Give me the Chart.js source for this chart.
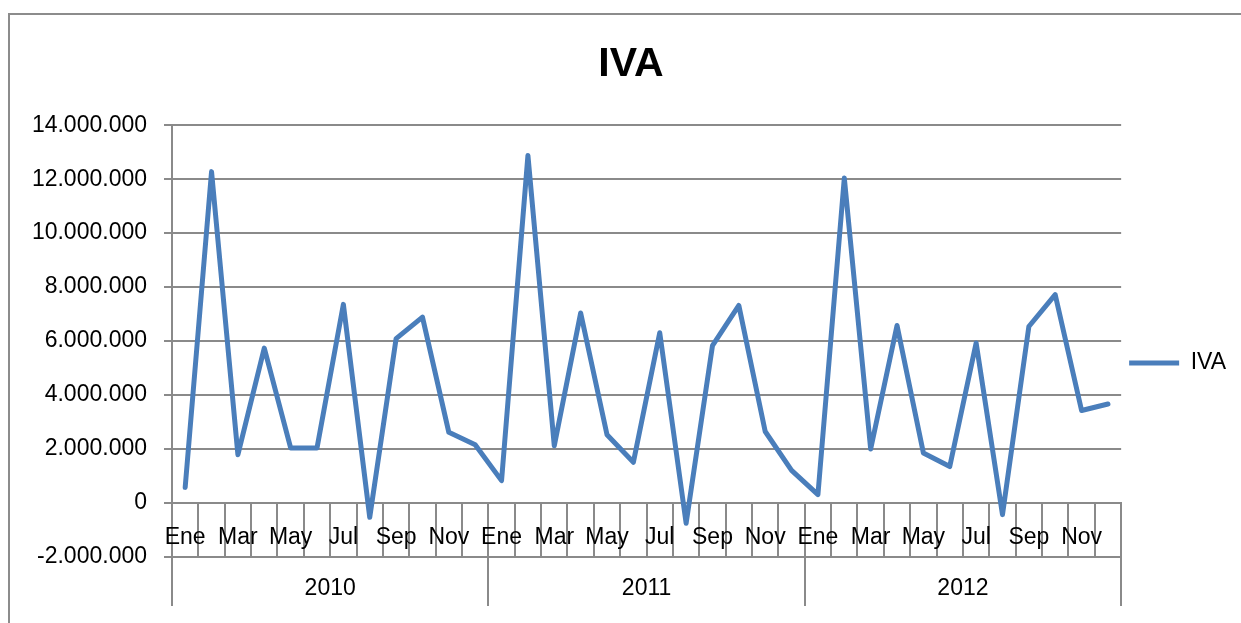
<!DOCTYPE html>
<html>
<head>
<meta charset="utf-8">
<script src="https://cdn.jsdelivr.net/npm/chart.js@4.4.1/dist/chart.umd.min.js"></script>
<style>
  html, body { margin: 0; padding: 0; background: #fff; overflow: hidden; }
  #wrap { position: absolute; left: 0; top: 0; width: 1241px; height: 623px; }
</style>
</head>
<body>
<div id="wrap"><canvas id="chart" width="1241" height="623"></canvas></div>
<script>
// month names (only every other one is shown on the axis)
const monthNames = ['Ene', 'Feb', 'Mar', 'Abr', 'May', 'Jun', 'Jul', 'Ago', 'Sep', 'Oct', 'Nov', 'Dic'];
const years = ['2010', '2011', '2012'];
const months = years.flatMap(() => monthNames);

// IVA values per month, 2010-2012
const iva2010 = [580000, 12280000, 1790000, 5740000, 2040000, 2040000, 7360000, -530000, 6090000, 6890000, 2620000, 2160000];
const iva2011 = [830000, 12880000, 2120000, 7040000, 2530000, 1510000, 6310000, -750000, 5830000, 7320000, 2650000, 1210000];
const iva2012 = [310000, 12040000, 2000000, 6580000, 1850000, 1350000, 5930000, -430000, 6540000, 7720000, 3430000, 3670000];
const ivaValues = iva2010.concat(iva2011, iva2012);

const yTicks = [-2000000, 0, 2000000, 4000000, 6000000, 8000000, 10000000, 12000000, 14000000];

const gridColor = '#8a8a8a';
const fontFamily = "'Liberation Sans', Arial, sans-serif";

// thousands with dots, like the original sheet
const fmt = (v) => {
  const s = Math.abs(v).toString().replace(/\B(?=(\d{3})+(?!\d))/g, '.');
  return (v < 0 ? '-' : '') + s;
};

// outer frame of the chart object
const framePlugin = {
  id: 'frame',
  beforeDraw(chart) {
    const ctx = chart.ctx;
    ctx.save();
    ctx.strokeStyle = '#8c8c8c';
    ctx.lineWidth = 2;
    ctx.strokeRect(9, 14, 1260, 640);
    ctx.restore();
  }
};

new Chart(document.getElementById('chart'), {
  type: 'line',
  data: {
    labels: months,
    datasets: [{
      label: 'IVA',
      data: ivaValues,
      borderColor: '#4a7ebb',
      backgroundColor: '#4a7ebb',
      borderWidth: 5,
      pointRadius: 0,
      tension: 0,
      borderCapStyle: 'round',
      borderJoinStyle: 'round',
      xAxisID: 'x',
      yAxisID: 'y'
    }]
  },
  options: {
    responsive: false,
    animation: false,
    devicePixelRatio: 1,
    layout: { padding: { left: 26, right: 5, top: 14, bottom: 23 } },
    plugins: {
      title: {
        display: true,
        text: 'IVA',
        color: '#000',
        font: { family: fontFamily, size: 41, weight: 'bold' },
        padding: { top: 26, bottom: 36 }
      },
      legend: {
        position: 'right',
        fullSize: false,
        title: { display: true, text: ' ', font: { size: 20 }, padding: 10 },
        labels: {
          usePointStyle: true,
          pointStyle: 'line',
          pointStyleWidth: 50,
          color: '#000',
          font: { family: fontFamily, size: 23 },
          padding: 8
        }
      },
      tooltip: { enabled: false }
    },
    scales: {
      y: {
        min: -2000000,
        max: 14000000,
        afterBuildTicks: (s) => { s.ticks = yTicks.map(v => ({ value: v })); },
        afterFit: (s) => { s.width = 146; },
        grid: { color: gridColor, lineWidth: 2, tickLength: 8, drawTicks: true },
        border: { color: gridColor, width: 2 },
        ticks: {
          color: '#000',
          padding: 17,
          font: { family: fontFamily, size: 23 },
          callback: (v) => fmt(v)
        }
      },
      x: {
        position: { y: 0 },
        offset: true,
        grid: { offset: true, drawOnChartArea: false, color: gridColor, lineWidth: 2, tickLength: 54 },
        border: { color: gridColor, width: 2 },
        ticks: {
          color: '#000',
          autoSkip: false,
          maxRotation: 0,
          padding: -33,
          font: { family: fontFamily, size: 23 },
          callback: (v, i) => (i % 2 === 0 ? months[i] : '')
        }
      },
      xYear: {
        type: 'category',
        labels: years,
        position: 'bottom',
        offset: true,
        afterFit: (s) => { s.height = 43; },
        grid: { offset: true, drawOnChartArea: false, color: gridColor, lineWidth: 2, tickLength: 49 },
        border: { display: false },
        ticks: {
          color: '#000',
          maxRotation: 0,
          padding: -31,
          font: { family: fontFamily, size: 23 }
        }
      }
    }
  },
  plugins: [framePlugin]
});
</script>
</body>
</html>
